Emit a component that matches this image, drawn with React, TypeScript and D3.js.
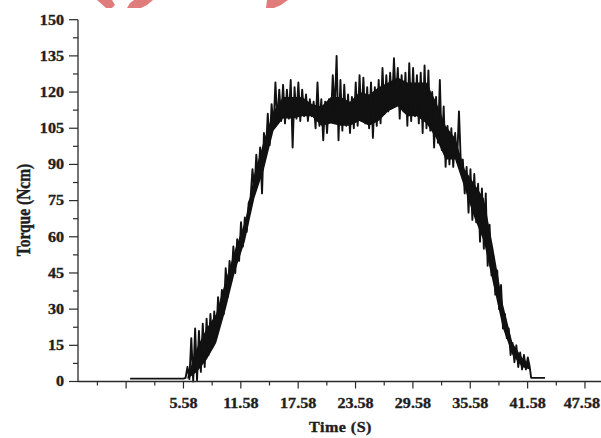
import React from "react";
import * as d3 from "d3";

// ---- Data ----
const leadTimes = [0, 5.6];
const leadTorque = [1.2, 1.2];

const sampleStart = 5.8; // s
const sampleStep = 0.2; // s
const torque = [
  1.5, 6, 1, 18, 0, 22, 0.5, 21, 4, 24, 6, 26, 11, 28, 14, 29, 18, 35, 26, 38,
  28, 47, 35, 50, 42, 56, 45, 59, 50, 66, 56, 68, 62, 74, 76, 88, 79, 94, 84, 97,
  78, 103, 95, 111, 98, 115, 105, 124, 107, 121, 108, 123, 107, 121, 109, 125, 97, 122, 109, 124,
  108, 121, 110, 119, 108, 117, 110, 116, 105, 124, 106, 117, 100, 116, 103, 117, 108, 127, 112, 135,
  100, 125, 104, 123, 106, 119, 103, 118, 105, 124, 106, 127, 108, 126, 107, 122, 105, 124, 101, 122,
  106, 125, 107, 130, 111, 127, 112, 128, 114, 134, 116, 130, 109, 127, 112, 128, 106, 132, 108, 130,
  110, 127, 107, 128, 103, 131, 105, 129, 104, 120, 97, 118, 99, 125, 96, 114, 89, 106, 90, 105,
  89, 103, 91, 112, 90, 92, 78, 89, 70, 88, 67, 86, 66, 82, 58, 80, 55, 78, 48, 65,
  44, 52, 36, 46, 30, 40, 22, 28, 18, 22, 11, 16, 8, 15, 6, 12, 5, 11, 5, 10, 6,
];

const tailTimes = [41.95, 43.4];
const tailTorque = [1.5, 1.5];

// dense core of the noisy band (where the trace fills solid black)
const coreTimes = [
  6, 7, 8, 9, 10, 11, 12, 13, 14, 15, 16, 17, 18, 19, 20, 21, 22, 23, 24, 25,
  26, 27, 28, 29, 30, 31, 32, 33, 34, 35, 36, 37, 38, 39, 40, 41, 41.8,
];
const coreLow = [
  1, 4, 9, 16, 30, 46, 58, 76, 88, 104, 109, 109, 110, 110, 106, 107, 106, 106, 108, 106,
  108, 112, 114, 110, 110, 107, 101, 92, 92, 80, 68, 58, 40, 22, 11, 6, 5,
];
const coreHigh = [
  2, 14, 22, 28, 42, 55, 66, 86, 100, 112, 118, 118, 118, 115, 114, 118, 118, 116, 120, 119,
  122, 124, 126, 124, 124, 124, 116, 106, 101, 88, 82, 76, 55, 32, 16, 10, 7,
];

const xMajorTicks = [-0.42, 5.58, 11.58, 17.58, 23.58, 29.58, 35.58, 41.58, 47.58];
const xTickLabels = ["", "5.58", "11.58", "17.58", "23.58", "29.58", "35.58", "41.58", "47.58"];
const xMinorTicks = [-3.42, 2.58, 8.58, 14.58, 20.58, 26.58, 32.58, 38.58, 44.58];
const yMajorTicks = [0, 15, 30, 45, 60, 75, 90, 105, 120, 135, 150];
const yMinorTicks = [7.5, 22.5, 37.5, 52.5, 67.5, 82.5, 97.5, 112.5, 127.5, 142.5];

const xTitle = "Time (S)";
const yTitle = "Torque (Ncm)";

export default function App() {
  const W = 601;
  const H = 438;
  const x = d3.scaleLinear().domain([-5.42, 49.58]).range([78.3, 604.1]);
  const y = d3.scaleLinear().domain([0, 150]).range([381.5, 19.7]);

  const pts: [number, number][] = [];
  leadTimes.forEach((t, i) => pts.push([t, leadTorque[i]]));
  torque.forEach((v, i) => pts.push([sampleStart + i * sampleStep, v]));
  tailTimes.forEach((t, i) => pts.push([t, tailTorque[i]]));

  const line = d3
    .line<[number, number]>()
    .x((d) => x(d[0]))
    .y((d) => y(d[1]));

  const core = coreTimes.map((t, i) => ({ t, lo: coreLow[i], hi: coreHigh[i] }));
  const area = d3
    .area<{ t: number; lo: number; hi: number }>()
    .x((d) => x(d.t))
    .y0((d) => y(d.lo))
    .y1((d) => y(d.hi))
    .curve(d3.curveLinear);

  const font = "'Liberation Serif', 'Times New Roman', serif";
  const axisColor = "#2a2a2a";
  const sx = 1.15;
  const textProps = {
    fontFamily: font,
    fontWeight: "bold" as const,
    fontSize: 14,
    fill: "#1e1e1e",
    stroke: "#1e1e1e",
    strokeWidth: 0.35,
  };

  return (
    <div style={{ position: "fixed", left: 0, top: 0, width: W, height: H, background: "#fff" }}>
      <svg width={W} height={H} style={{ display: "block" }}>
        <rect width={W} height={H} fill="#fff" />
        {/* watermark fragments */}
        <g fill="#e07c7c">
          <path d="M97,0 L112,0 L115,5 L112,8 L106,8 Z" />
          <path d="M134,0 L153,0 L147,5 L141,8 L127,8 L130,3 Z" />
          <path d="M267,0 L288,0 L281,5 L274,8 L266,8 Z" />
        </g>

        {/* data */}
        <path d={area(core) || ""} fill="#111" stroke="none" />
        <path d={line(pts) || ""} fill="none" stroke="#111" strokeWidth={1.9} strokeLinejoin="round" />

        {/* axes */}
        <line x1={78} x2={601} y1={y(0)} y2={y(0)} stroke={axisColor} strokeWidth={1.3} />
        <line x1={78} x2={78} y1={y(150)} y2={y(0)} stroke={axisColor} strokeWidth={1.3} />

        {xMajorTicks.map((t, i) => {
          const last = i === xMajorTicks.length - 1;
          return (
            <g key={"xm" + i}>
              <line x1={x(t)} x2={x(t)} y1={y(0)} y2={y(0) + 7} stroke={axisColor} strokeWidth={1.2} />
              {xTickLabels[i] && (
                <text
                  transform={`translate(${last ? 600 : x(t)},408) scale(${sx},1)`}
                  textAnchor={last ? "end" : "middle"}
                  {...textProps}
                >
                  {xTickLabels[i]}
                </text>
              )}
            </g>
          );
        })}
        {xMinorTicks.map((t, i) => (
          <line key={"xn" + i} x1={x(t)} x2={x(t)} y1={y(0)} y2={y(0) + 4} stroke={axisColor} strokeWidth={1.2} />
        ))}

        {yMajorTicks.map((v, i) => (
          <g key={"ym" + i}>
            <line x1={69} x2={78} y1={y(v)} y2={y(v)} stroke={axisColor} strokeWidth={1.2} />
            <text
              transform={`translate(64,${y(v) + 4.8}) scale(${sx},1)`}
              textAnchor="end"
              {...textProps}
            >
              {v}
            </text>
          </g>
        ))}
        {yMinorTicks.map((v, i) => (
          <line key={"yn" + i} x1={73} x2={78} y1={y(v)} y2={y(v)} stroke={axisColor} strokeWidth={1.2} />
        ))}

        <text
          transform={`translate(340.5,432) scale(${sx},1)`}
          textAnchor="middle"
          letterSpacing={0.4}
          {...textProps}
        >
          {xTitle}
        </text>
        <text
          transform={`translate(29.5,210) scale(1.25,1) rotate(-90)`}
          textAnchor="middle"
          {...textProps}
          fontSize={15.5}
        >
          {yTitle}
        </text>
      </svg>
    </div>
  );
}
